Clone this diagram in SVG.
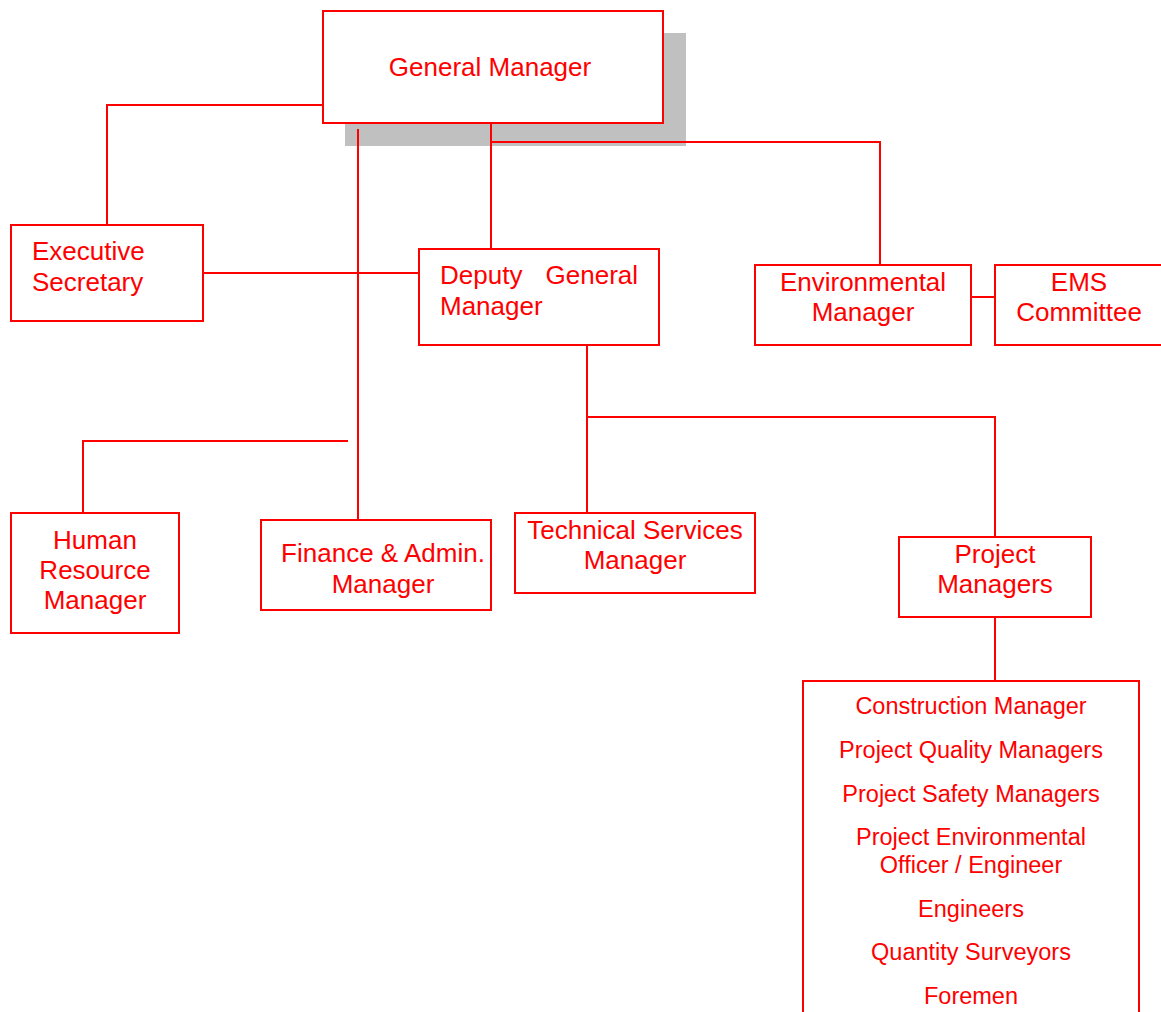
<svg xmlns="http://www.w3.org/2000/svg" width="1161" height="1012" viewBox="0 0 1161 1012">
<style>
.box{fill:#FFFFFF;stroke:#FF0000;stroke-width:2}
.ln{fill:none;stroke:#FF0000;stroke-width:2}
.t{font-family:"Liberation Sans",Arial,sans-serif;font-size:26px;fill:#FF0000}
.s{font-family:"Liberation Sans",Arial,sans-serif;font-size:23.5px;fill:#FF0000;text-anchor:middle}
.m{text-anchor:middle}
</style>
<rect width="1161" height="1012" fill="#FFFFFF"/>
<g id="gm">
<rect x="345" y="33" width="341" height="113" fill="#C0C0C0"/>
<rect class="box" x="323" y="11" width="340" height="112"/>
<text class="t m" x="490" y="76">General Manager</text>
</g>
<g id="connectors">
<polyline class="ln" points="323,105 107,105 107,225"/>
<line class="ln" x1="491" y1="123" x2="491" y2="249"/>
<polyline class="ln" points="491,142 880,142 880,265"/>
<line class="ln" x1="358" y1="129" x2="358" y2="520"/>
<line class="ln" x1="203" y1="273" x2="419" y2="273"/>
<polyline class="ln" points="348,441 83,441 83,513"/>
<line class="ln" x1="587" y1="345" x2="587" y2="513"/>
<polyline class="ln" points="587,417 995,417 995,537"/>
<line class="ln" x1="972" y1="297" x2="995" y2="297"/>
<line class="ln" x1="995" y1="617" x2="995" y2="681"/>
</g>
<g id="exec">
<rect class="box" x="11" y="225" width="192" height="96"/>
<text class="t" x="32" y="260">Executive</text>
<text class="t" x="32" y="291">Secretary</text>
</g>
<g id="dgm">
<rect class="box" x="419" y="249" width="240" height="96"/>
<text class="t" x="440" y="284" word-spacing="16">Deputy General</text>
<text class="t" x="440" y="315">Manager</text>
</g>
<g id="env">
<rect class="box" x="755" y="265" width="216" height="80"/>
<text class="t m" x="863" y="291">Environmental</text>
<text class="t m" x="863" y="321">Manager</text>
</g>
<g id="ems">
<rect class="box" x="995" y="265" width="170" height="80"/>
<text class="t m" x="1079" y="291">EMS</text>
<text class="t m" x="1079" y="321">Committee</text>
</g>
<g id="hr">
<rect class="box" x="11" y="513" width="168" height="120"/>
<text class="t m" x="95" y="549">Human</text>
<text class="t m" x="95" y="579">Resource</text>
<text class="t m" x="95" y="609">Manager</text>
</g>
<g id="fin">
<rect class="box" x="261" y="520" width="230" height="90"/>
<text class="t m" x="383" y="562">Finance &amp; Admin.</text>
<text class="t m" x="383" y="593">Manager</text>
</g>
<g id="tech">
<rect class="box" x="515" y="513" width="240" height="80"/>
<text class="t m" x="635" y="539">Technical Services</text>
<text class="t m" x="635" y="569">Manager</text>
</g>
<g id="pm">
<rect class="box" x="899" y="537" width="192" height="80"/>
<text class="t m" x="995" y="563">Project</text>
<text class="t m" x="995" y="593">Managers</text>
</g>
<g id="team">
<polyline class="ln" points="803,1014 803,681 1139,681 1139,1014"/>
<text class="s" x="971" y="714">Construction Manager</text>
<text class="s" x="971" y="758">Project Quality Managers</text>
<text class="s" x="971" y="802">Project Safety Managers</text>
<text class="s" x="971" y="845">Project Environmental</text>
<text class="s" x="971" y="873">Officer / Engineer</text>
<text class="s" x="971" y="917">Engineers</text>
<text class="s" x="971" y="960">Quantity Surveyors</text>
<text class="s" x="971" y="1004">Foremen</text>
</g>
</svg>
